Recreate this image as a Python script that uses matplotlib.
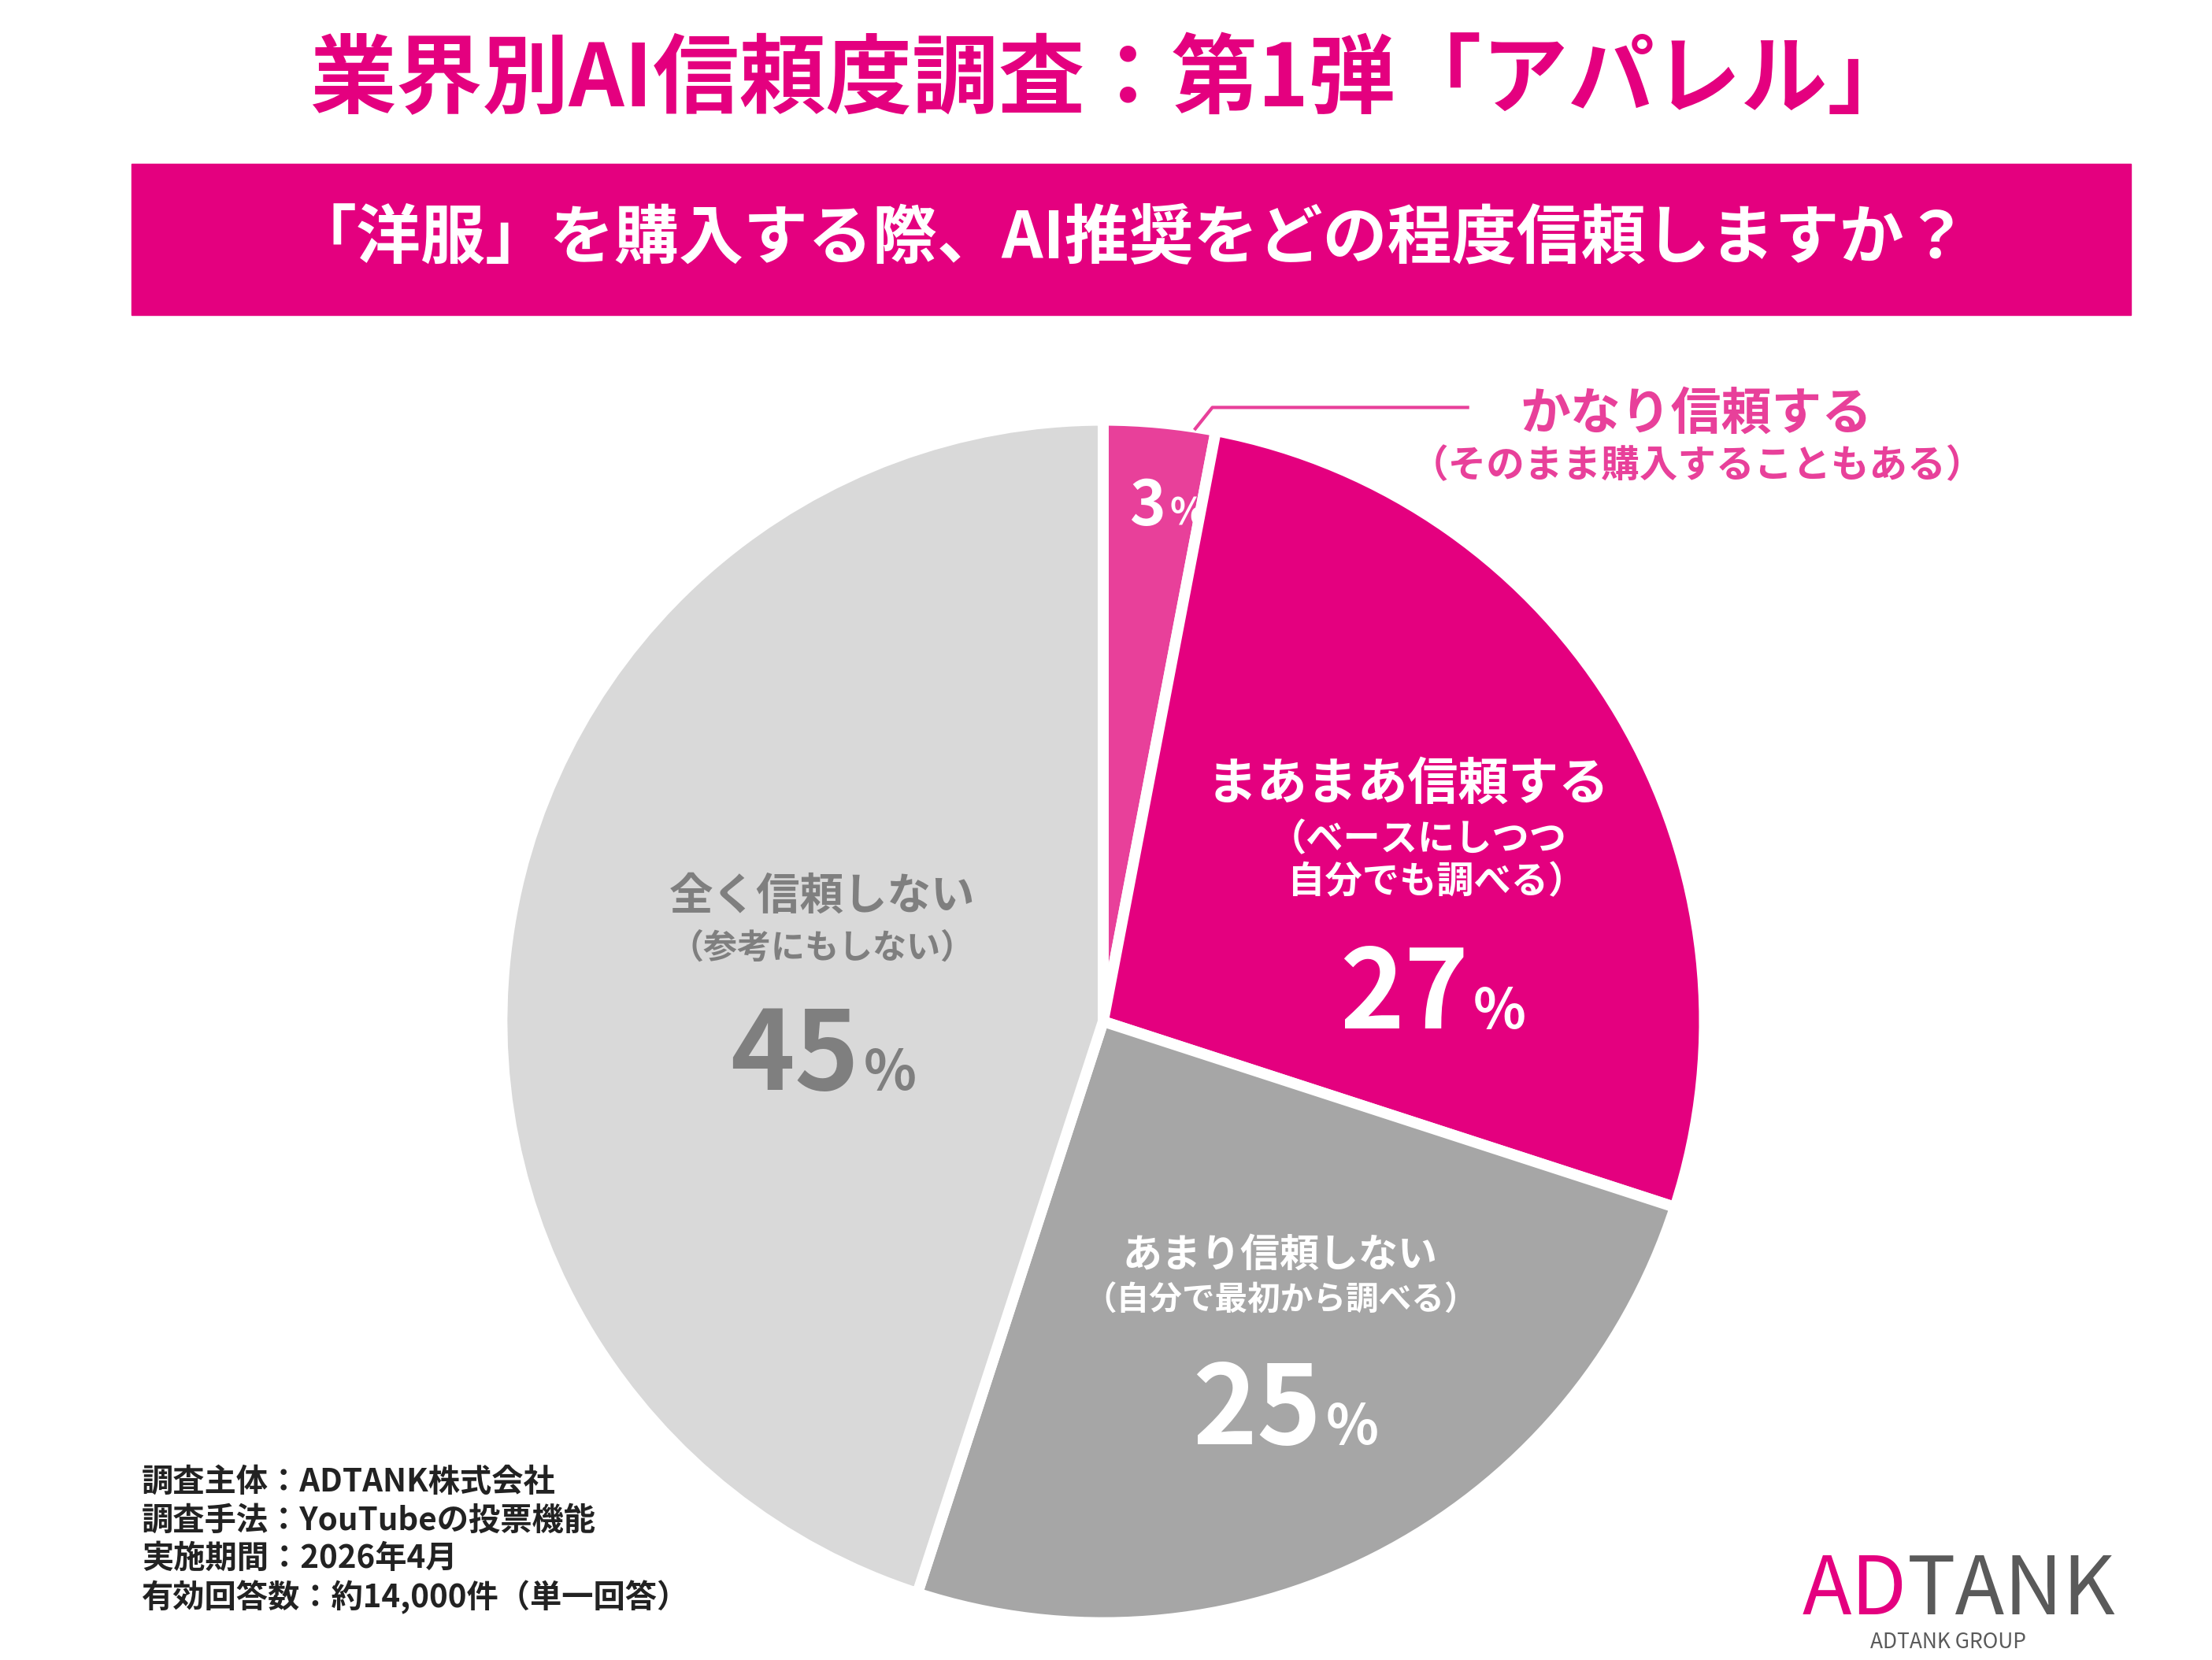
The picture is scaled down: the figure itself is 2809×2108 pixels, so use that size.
import matplotlib.pyplot as plt

plt.rcParams['font.family'] = ['Noto Sans CJK JP', 'DejaVu Sans']

shares = [3, 27, 25, 45]
colors = ['#E8409A', '#E4007F', '#A6A6A6', '#D9D9D9']
explode = [0, 0.03, 0, 0]

W, H = 1560, 1170
fig = plt.figure(figsize=(28.09, 21.08), dpi=100)
ax = fig.add_axes([0, 0, 1, 1])

def Y(y):
    return H - y

magenta = '#E4007F'
ax.text(784, Y(57), '業界別AI信頼度調査：第1弾「アパレル」', ha='center', va='center',
        fontsize=79, fontweight='bold', color=magenta)
ax.add_patch(plt.Rectangle((93, Y(222)), 1410, 107, color=magenta))
ax.text(797, Y(168), '「洋服」を購入する際、AI推奨をどの程度信頼しますか？', ha='center', va='center',
        fontsize=59, fontweight='bold', color='white')

ax.pie(shares, colors=colors, explode=explode, startangle=90, counterclock=False,
       center=(778, Y(720)), radius=424, frame=True,
       wedgeprops=dict(edgecolor='white', linewidth=10))
ax.set_xlim(0, W)
ax.set_ylim(0, H)
ax.set_aspect('equal')
ax.axis('off')

def pct(x, y, num, color, size, r=0.5):
    ax.text(x, Y(y), num, ha='right', va='baseline', fontsize=size, fontweight='bold', color=color)
    ax.text(x + 3, Y(y), '%', ha='left', va='baseline', fontsize=size * r, fontweight='bold', color=color)

pct(822, 370, '3', 'white', 56, 0.6)
pct(1036, 725, '27', 'white', 100)
pct(606, 768, '45', '#7F7F7F', 100)
pct(932, 1018, '25', 'white', 100)

ax.text(993, Y(553), 'まあまあ信頼する', ha='center', va='center', fontsize=46, fontweight='bold', color='white')
ax.text(1000, Y(607), '（ベースにしつつ\n　自分でも調べる）', ha='center', va='center', fontsize=34,
        fontweight='bold', color='white', linespacing=1.15)
ax.text(580, Y(632), '全く信頼しない', ha='center', va='center', fontsize=40, fontweight='bold', color='#7F7F7F')
ax.text(580, Y(668), '（参考にもしない）', ha='center', va='center', fontsize=31, fontweight='bold', color='#7F7F7F')
ax.text(903, Y(885), 'あまり信頼しない', ha='center', va='center', fontsize=36, fontweight='bold', color='white')
ax.text(903, Y(917), '（自分で最初から調べる）', ha='center', va='center', fontsize=30, fontweight='bold', color='white')

pink = '#E8409A'
ax.plot([843, 855, 1035], [Y(302), Y(287), Y(287)], color=pink, lw=3)
ax.text(1196, Y(292), 'かなり信頼する', ha='center', va='center', fontsize=46, fontweight='bold', color=pink)
ax.text(1197, Y(328), '（そのまま購入することもある）', ha='center', va='center', fontsize=35, fontweight='bold', color=pink)

notes = ['調査主体：ADTANK株式会社', '調査手法：YouTubeの投票機能', '実施期間：2026年4月', '有効回答数：約14,000件（単一回答）']
for i, s in enumerate(notes):
    ax.text(100, Y(1045 + 27 * i), s, ha='left', va='center', fontsize=29, fontweight='bold', color='#222222')

ax.text(1345, Y(1122), 'AD', ha='right', va='center', fontsize=74, color=magenta)
ax.text(1345, Y(1122), 'TANK', ha='left', va='center', fontsize=74, color='#5A5A5A')
ax.text(1374, Y(1158), 'ADTANK GROUP', ha='center', va='center', fontsize=19, color='#5A5A5A')

fig.savefig('out.png', dpi=100, facecolor='white')
